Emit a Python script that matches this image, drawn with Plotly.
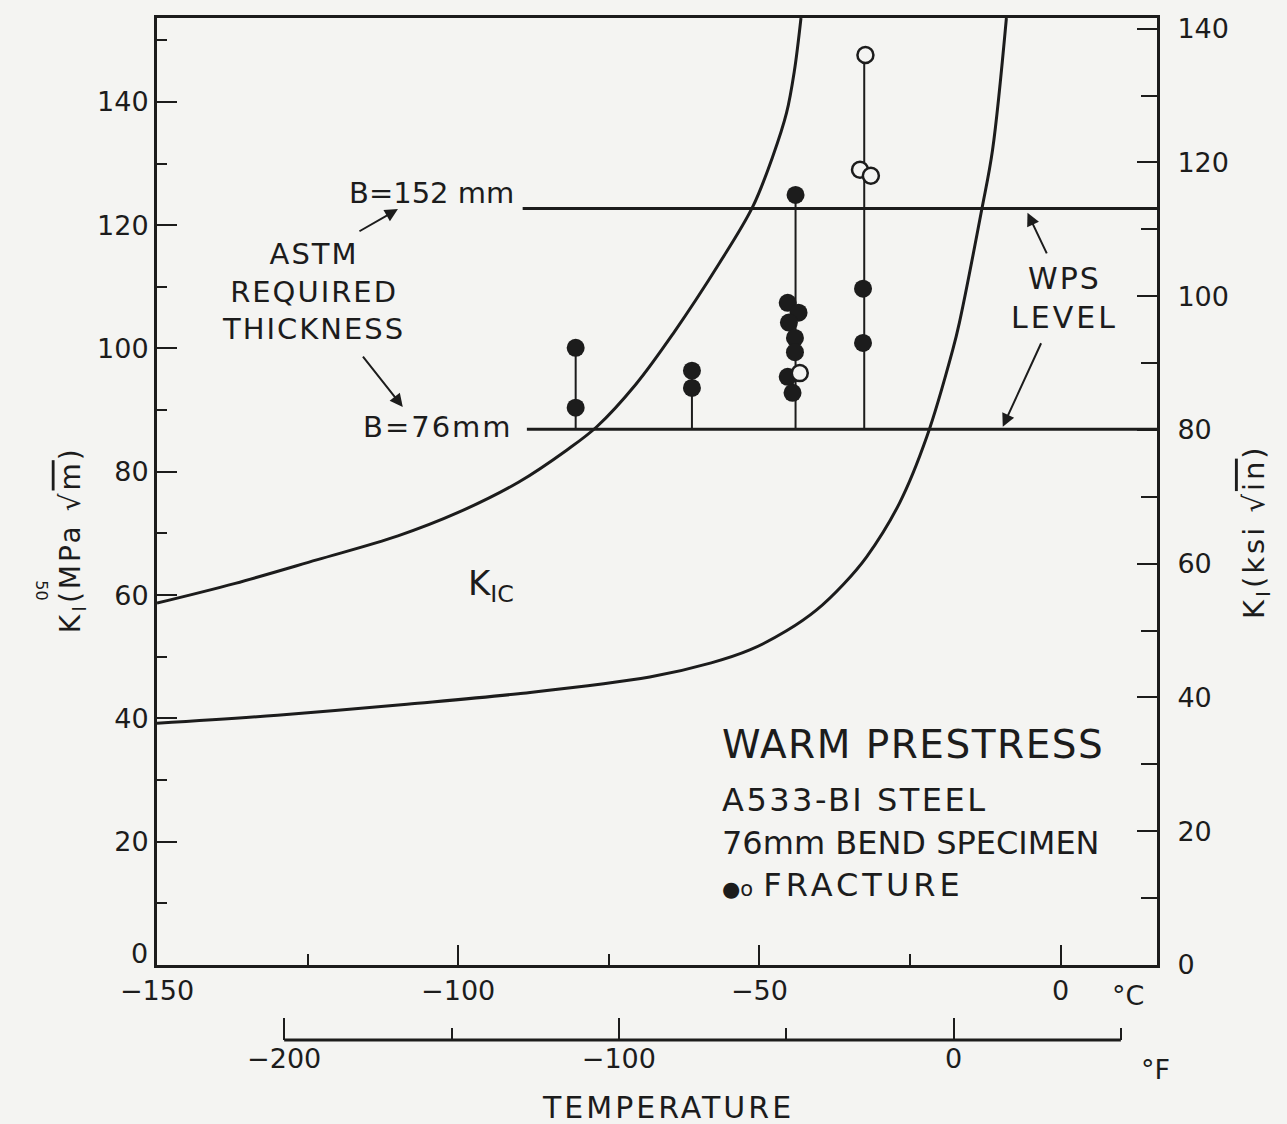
import plotly.graph_objects as go

# ---------------- data ----------------
# K_IC curves (temperature in degC, K in MPa*sqrt(m))
lower_T = [-150, -130, -108.5, -90, -68.2, -58, -51.6, -45.5, -40.5, -36, -32.2, -26.7,
           -22.2, -17.9, -16.8, -13.1, -11.3, -9.0]
lower_K = [39.2, 40.5, 42.3, 44.0, 46.7, 49.0, 51.1, 54.2, 57.6, 61.8, 66.2, 75.0,
           85.7, 99.8, 104.2, 122.5, 132.2, 153.6]

upper_T = [-150, -137, -123.5, -110, -100, -90, -82, -77, -70.5, -64.4, -56.6, -51.1,
           -47.8, -45.5, -44.2, -43.1]
upper_K = [58.7, 61.9, 65.7, 69.6, 73.4, 78.3, 83.5, 87.3, 94.2, 102.3, 113.9, 123.0,
           131.1, 138.2, 145.0, 153.6]

# WPS levels (B = 152 mm and B = 76 mm)
wps_levels = [122.7, 86.9]
wps_start_T = [-89.3, -88.6]
wps_end_T = 16

# fracture data
filled_T = [-80.5, -80.5, -61.2, -61.2, -45.3, -43.5, -45.1, -44.1, -44.1, -45.3, -44.5, -44.0, -32.8, -32.8]
filled_K = [100.1, 90.4, 96.4, 93.6, 107.4, 105.8, 104.2, 101.7, 99.4, 95.4, 92.8, 124.9, 109.7, 100.9]
open_T = [-43.3, -32.4, -33.3, -31.5]
open_K = [96.0, 147.6, 129.0, 128.0]

# stems (prestress columns)
stem_T = [-80.5, -61.2, -44.0, -32.6]

# axes
x_range_C = [-150, 16]
y_range_MPa = [0, 153.6]
y_range_ksi = [0, 141.6]
y_ticks_MPa = [0, 20, 40, 60, 80, 100, 120, 140]
F_line = [-200, 50]


def c2f(c):
    return c * 9 / 5 + 32


INK = "#1c1c1c"
BG = "#f4f4f2"
FONT = "DejaVu Sans"

fig = go.Figure()

# stems from lower WPS level up to the highest point of each column
all_T = filled_T + open_T
all_K = filled_K + open_K
for st in stem_T:
    top = max(k for t, k in zip(all_T, all_K) if abs(t - st) < 3)
    fig.add_trace(go.Scatter(x=[st, st], y=[wps_levels[1], top], mode="lines",
                             line=dict(color=INK, width=2), hoverinfo="skip"))

# WPS horizontal lines
for lvl, x0 in zip(wps_levels, wps_start_T):
    fig.add_trace(go.Scatter(x=[x0, wps_end_T], y=[lvl, lvl], mode="lines",
                             line=dict(color=INK, width=3), hoverinfo="skip"))

# K_IC curves
fig.add_trace(go.Scatter(x=lower_T, y=lower_K, mode="lines", line_shape="spline",
                         line=dict(color=INK, width=3, smoothing=1.0), hoverinfo="skip"))
fig.add_trace(go.Scatter(x=upper_T, y=upper_K, mode="lines", line_shape="spline",
                         line=dict(color=INK, width=3, smoothing=1.0), hoverinfo="skip"))

# points
fig.add_trace(go.Scatter(x=filled_T, y=filled_K, mode="markers",
                         marker=dict(size=18, color=INK, line=dict(width=0)), hoverinfo="skip"))
fig.add_trace(go.Scatter(x=open_T, y=open_K, mode="markers",
                         marker=dict(size=16, color=BG, line=dict(width=2.5, color=INK)), hoverinfo="skip"))

# dummy traces to activate secondary axes
fig.add_trace(go.Scatter(x=F_line, y=[None, None], xaxis="x2", yaxis="y", mode="markers",
                         hoverinfo="skip"))
fig.add_trace(go.Scatter(x=[None], y=[None], xaxis="x", yaxis="y2", mode="markers",
                         hoverinfo="skip"))

tickfont = dict(family=FONT, size=27, color=INK)

fig.update_layout(
    width=1287, height=1124, autosize=False,
    margin=dict(l=157, r=130, t=18, b=84),
    paper_bgcolor=BG, plot_bgcolor=BG,
    showlegend=False,
    font=dict(family=FONT, color=INK),
    xaxis=dict(range=x_range_C, domain=[0, 1], showline=True, linecolor=INK, linewidth=3,
               mirror=True, ticks="inside", tick0=-150, dtick=50, ticklen=20, tickwidth=2,
               tickcolor=INK, minor=dict(ticks="inside", tick0=-150, dtick=25, ticklen=11,
                                         tickwidth=2, tickcolor=INK),
               showgrid=False, zeroline=False, tickfont=tickfont, anchor="y"),
    yaxis=dict(range=y_range_MPa, domain=[0.0734, 1], showline=True, linecolor=INK, linewidth=3,
               ticks="inside", tickvals=y_ticks_MPa,
               ticktext=["" if v == 0 else str(v) for v in y_ticks_MPa],
               ticklen=20, tickwidth=2, tickcolor=INK,
               minor=dict(ticks="inside", dtick=10, ticklen=10, tickwidth=2, tickcolor=INK),
               showgrid=False, zeroline=False, tickfont=tickfont, anchor="x"),
    yaxis2=dict(range=y_range_ksi, overlaying="y", side="right", anchor="x", showline=True,
                linecolor=INK, linewidth=3, ticks="inside", tick0=0, dtick=20, ticklen=20,
                tickwidth=2, tickcolor=INK,
                minor=dict(ticks="inside", dtick=10, ticklen=16, tickwidth=2, tickcolor=INK),
                showgrid=False, zeroline=False, tickfont=tickfont, ticklabelstandoff=12),
    xaxis2=dict(range=[c2f(x_range_C[0]), c2f(x_range_C[1])], overlaying="x", anchor="free",
                position=0, side="bottom", showline=False, ticks="inside", tick0=-200, dtick=100,
                ticklen=22, tickwidth=2, tickcolor=INK,
                minor=dict(ticks="inside", tick0=-200, dtick=50, ticklen=12, tickwidth=2,
                           tickcolor=INK),
                showgrid=False, zeroline=False, tickfont=tickfont),
)

# Fahrenheit axis line
fig.add_shape(type="line", xref="x2", yref="paper", x0=F_line[0], x1=F_line[1], y0=0, y1=0,
              line=dict(color=INK, width=3))

ann = []


def sp(text, ls):
    return f"<span style='letter-spacing:{ls}px'>{text}</span>"


def txt(text, x, y, size, xref="x", yref="y", xanchor="center", yanchor="middle", **kw):
    ann.append(dict(text=text, x=x, y=y, xref=xref, yref=yref, xanchor=xanchor,
                    yanchor=yanchor, showarrow=False,
                    font=dict(family=FONT, size=size, color=INK), **kw))


def arrow(x, y, ax, ay):
    ann.append(dict(text="", x=x, y=y, xref="x", yref="y", ax=ax, ay=ay, showarrow=True,
                    arrowhead=2, arrowsize=1.3, arrowwidth=2, arrowcolor=INK))


# y-axis zero label, lifted slightly above the corner as in the reference
txt("0", -0.007, 1.8, 27, xref="paper", yref="y", xanchor="right")

txt("B=152 mm", -104.4, 125.2, 29)
txt(sp("ASTM", 2) + "<br>" + sp("REQUIRED", 2) + "<br>" + sp("THICKNESS", 2),
    -124.0, 109.2, 29, align="center")
txt(sp("B=76mm", 2), -103.4, 87.3, 29)
arrow(-110.0, 122.6, -40, 23)
arrow(-109.2, 90.5, -41, -52)

txt(sp("WPS", 2) + "<br>" + sp("LEVEL", 3), 0.6, 108.2, 30, align="center")
arrow(-5.5, 122.0, 20, 42)
arrow(-9.6, 87.3, 39, -85)

txt("K<sub>IC</sub>", -94.6, 61.6, 34)

txt(sp("WARM PRESTRESS", 1.5), -56.6, 35.7, 39, xanchor="left")
txt(sp("A533-BI STEEL", 2.5), -56.6, 26.8, 32, xanchor="left")
txt("76mm BEND SPECIMEN", -56.6, 19.8, 32, xanchor="left")
txt("<span style='font-size:21px'>●o</span> " + sp("FRACTURE", 4),
    -56.6, 13.0, 32, xanchor="left")

# axis titles and units
txt(sp("K<sub>I</sub>(MPa √<span style='text-decoration:overline'>m</span>)", 3),
    -0.085, 0.489, 28, xref="paper", yref="paper", textangle=-90)
txt(sp("K<sub>I</sub>(ksi √<span style='text-decoration:overline'>in</span>)", 3),
    1.099, 0.497, 29, xref="paper", yref="paper", textangle=-90)
txt("50", -0.115, 0.44, 16, xref="paper", yref="paper", textangle=90)
txt("°C", 0.971, 0.044, 27, xref="paper", yref="paper")
txt("°F", 0.998, -0.029, 27, xref="paper", yref="paper")
txt(sp("TEMPERATURE", 3), 0.511, -0.0665, 30, xref="paper", yref="paper")

fig.update_layout(annotations=ann)

fig.write_html("out.html")
